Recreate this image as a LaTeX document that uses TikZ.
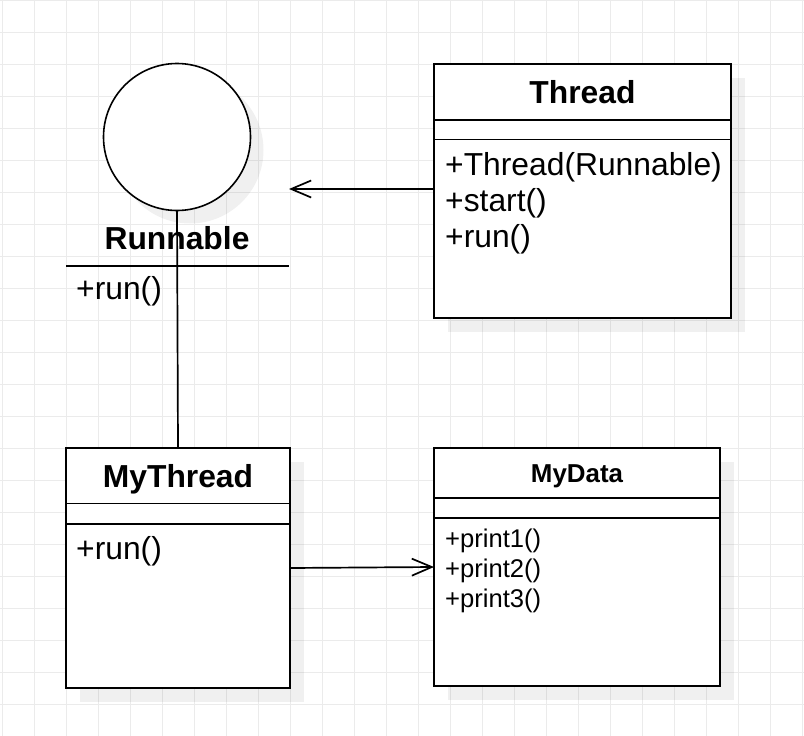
\documentclass[tikz,border=0pt]{standalone}
\usepackage{fontspec}
\setmainfont{Liberation Sans}
\usetikzlibrary{arrows.meta,shadows}

\tikzset{
  gridline/.style={draw=black!8, line width=1pt},
  classbox/.style={rectangle, draw=black, fill=white, line width=1.9pt,
    inner sep=0pt, outer sep=0pt, anchor=north west,
    drop shadow={shadow xshift=14pt, shadow yshift=-14pt, opacity=0.06, fill=black}},
  divider/.style={draw=black, line width=1.9pt},
  lollipop/.style={circle, draw=black, fill=white, line width=1.6pt,
    inner sep=0pt, outer sep=0pt, minimum size=147pt,
    drop shadow={shadow xshift=13pt, shadow yshift=-13pt, opacity=0.06, fill=black}},
  titletext/.style={anchor=base, inner sep=0pt, font=\fontsize{31.8}{36}\selectfont\bfseries},
  smalltitle/.style={anchor=base, inner sep=0pt, font=\fontsize{25.9}{30}\selectfont\bfseries},
  member/.style={anchor=base west, inner sep=0pt, font=\fontsize{31.8}{36}\selectfont},
  smallmember/.style={anchor=base west, inner sep=0pt, font=\fontsize{25.6}{30}\selectfont},
  connector/.style={draw=black, line width=1.7pt},
  navigable/.style={connector, -{Straight Barb[length=20pt, width=17pt]}},
}

\begin{document}
\begin{tikzpicture}[x=1pt, y=-1pt]
  % page and background grid
  \useasboundingbox (0,0) rectangle (804,736);
  \fill[white] (0,0) rectangle (804,736);
  \foreach \gx in {2,34,...,802} \draw[gridline] (\gx,0) -- (\gx,736);
  \foreach \gy in {0,32,...,736} \draw[gridline] (0,\gy) -- (804,\gy);

  % Runnable interface (lollipop notation)
  \node[lollipop] (circ) at (177,137) {};
  \node[rectangle, inner sep=0pt, outer sep=0pt, minimum width=223pt,
        minimum height=250pt] (runnable) at (177.5,189) {};
  \node[titletext] (runnabletitle) at (177,249) {Runnable};
  \draw[divider] ([yshift=-202pt]runnable.north west) -- ([yshift=-202pt]runnable.north east);
  \node[member] (runnablerun) at (76,299.5) {+run()};

  % Thread class
  \node[classbox, minimum width=297pt, minimum height=254pt] (thread) at (434,64) {};
  \draw[divider] ([yshift=-56pt]thread.north west) -- ([yshift=-56pt]thread.north east);
  \draw[divider] ([yshift=-75.5pt]thread.north west) -- ([yshift=-75.5pt]thread.north east);
  \node[titletext] (threadtitle) at (582.5,103) {Thread};
  \node[member] (threadctor) at (445,175.5) {+Thread(Runnable)};
  \node[member] (threadstart) at (445,211.5) {+start()};
  \node[member] (threadrun) at (445,247.5) {+run()};

  % MyThread class
  \node[classbox, minimum width=224pt, minimum height=240pt] (mythread) at (66,448) {};
  \draw[divider] ([yshift=-55.5pt]mythread.north west) -- ([yshift=-55.5pt]mythread.north east);
  \draw[divider] ([yshift=-76pt]mythread.north west) -- ([yshift=-76pt]mythread.north east);
  \node[titletext] (mythreadtitle) at (178,487) {MyThread};
  \node[member] (mythreadrun) at (76,559) {+run()};

  % MyData class
  \node[classbox, minimum width=286pt, minimum height=238pt] (mydata) at (434,448) {};
  \draw[divider] ([yshift=-50pt]mydata.north west) -- ([yshift=-50pt]mydata.north east);
  \draw[divider] ([yshift=-70pt]mydata.north west) -- ([yshift=-70pt]mydata.north east);
  \node[smalltitle] (mydatatitle) at (577,482) {MyData};
  \node[smallmember] (print1) at (445,547.5) {+print1()};
  \node[smallmember] (print2) at (445,577.5) {+print2()};
  \node[smallmember] (print3) at (445,607.5) {+print3()};

  % relations
  \draw[connector] (circ.south) -- (mythread.north);
  \draw[navigable] ([yshift=2pt]thread.west) -- (runnable.east);
  \draw[navigable] (mythread.east) -- (mydata.west);
\end{tikzpicture}
\end{document}
